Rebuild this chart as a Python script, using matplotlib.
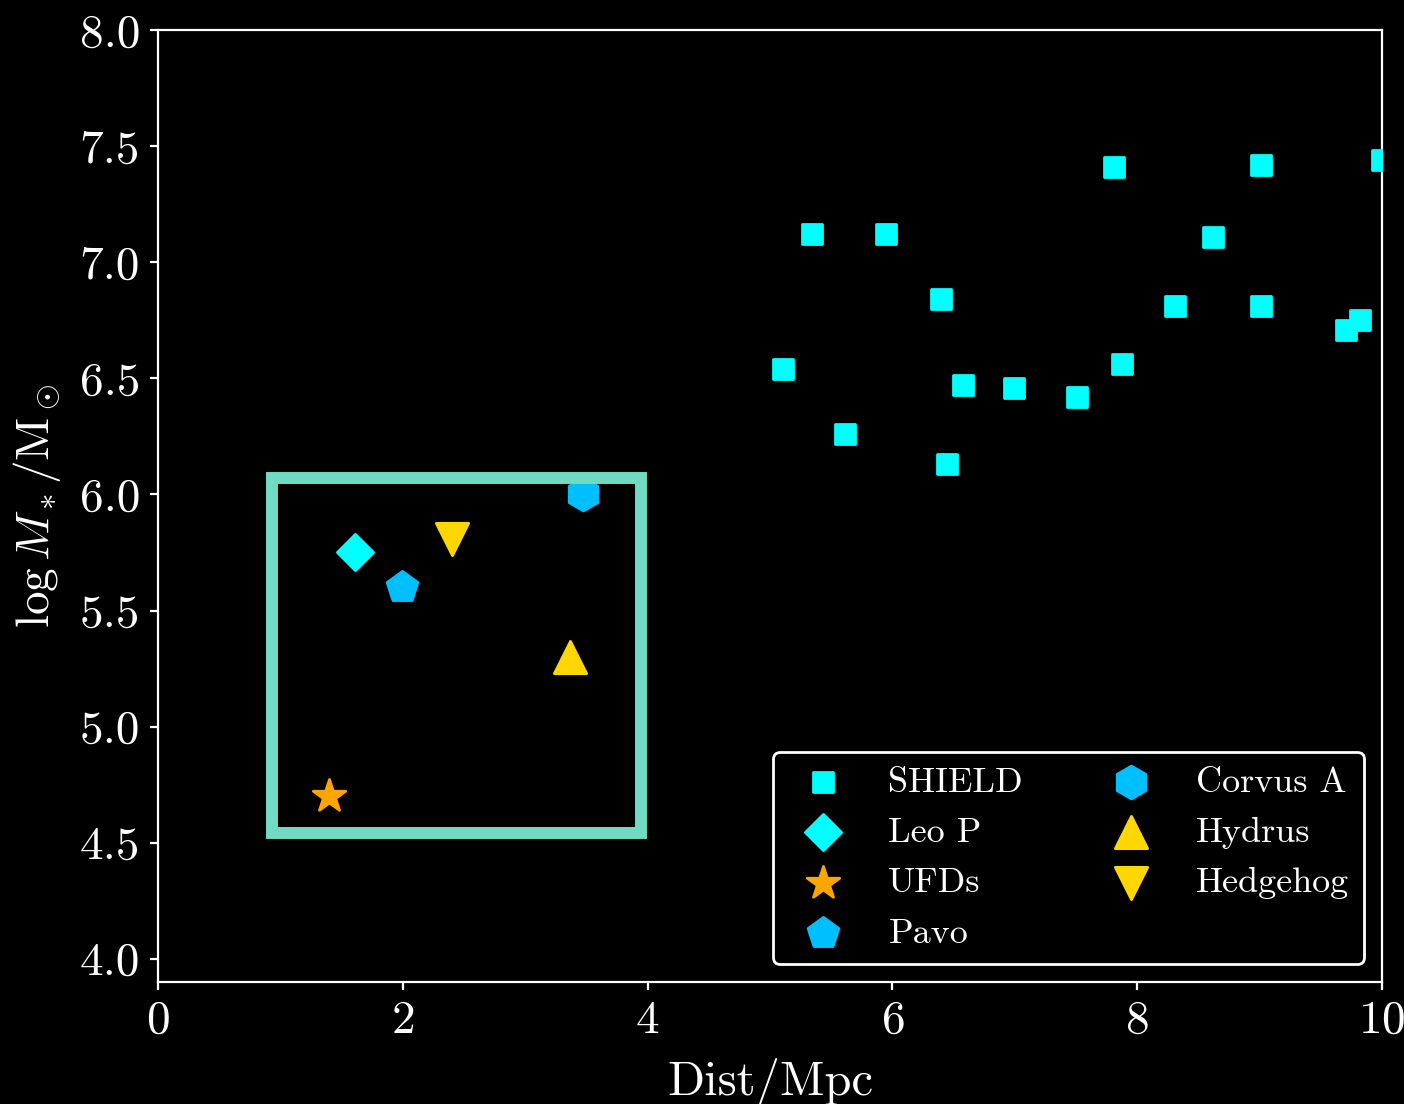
import matplotlib
matplotlib.use('Agg')
import matplotlib.pyplot as plt
from matplotlib.patches import Rectangle

# SHIELD galaxies: distance (Mpc) and log stellar mass
shield_dist = [5.11, 5.34, 5.61, 5.95, 6.40, 6.45, 6.58, 6.99, 7.51, 7.81,
               7.88, 8.31, 8.62, 9.01, 9.01, 9.71, 9.82, 10.0]
shield_mass = [6.54, 7.12, 6.26, 7.12, 6.84, 6.13, 6.47, 6.46, 6.42, 7.41,
               6.56, 6.81, 7.11, 7.42, 6.81, 6.71, 6.75, 7.44]

# individual objects
obj_names = ['Leo P', 'UFDs', 'Pavo', 'Corvus A', 'Hydrus', 'Hedgehog']
obj_dist = [1.61, 1.40, 1.99, 3.47, 3.37, 2.40]
obj_mass = [5.75, 4.70, 5.60, 6.00, 5.30, 5.81]
obj_marker = ['D', '*', 'p', 'h', '^', 'v']
obj_color = ['#00FFFF', '#FFA500', '#00BFFF', '#00BFFF', '#FFD700', '#FFD700']
obj_size = [85, 150, 135, 140, 135, 135]

# highlighted region (x0, x1, y0, y1)
box_x = [0.93, 3.95]
box_y = [4.54, 6.07]

plt.rcParams['font.family'] = 'serif'
plt.rcParams['font.serif'] = ['cmr10']
plt.rcParams['mathtext.fontset'] = 'cm'
plt.rcParams['axes.formatter.use_mathtext'] = True

fig = plt.figure(figsize=(7.02, 5.52), dpi=200, facecolor='black')
ax = fig.add_axes([0.1125, 0.1105, 0.8718, 0.8623], facecolor='black')

ax.scatter(shield_dist, shield_mass, marker='s', s=52, color='#00FFFF',
           label='SHIELD', zorder=3)
for i in range(len(obj_names)):
    ax.scatter(obj_dist[i], obj_mass[i], marker=obj_marker[i], s=obj_size[i],
               color=obj_color[i], label=obj_names[i], zorder=3)

ax.add_patch(Rectangle((box_x[0], box_y[0]), box_x[1] - box_x[0], box_y[1] - box_y[0],
                       fill=False, edgecolor='#70DBC1', linewidth=4.3, zorder=4,
                       clip_on=False))

ax.set_xlim(0, 10)
ax.set_ylim(3.9, 8.0)
ax.set_xticks([0, 2, 4, 6, 8, 10])
ax.set_yticks([4.0, 4.5, 5.0, 5.5, 6.0, 6.5, 7.0, 7.5, 8.0])
ax.set_yticklabels(['4.0', '4.5', '5.0', '5.5', '6.0', '6.5', '7.0', '7.5', '8.0'])

for sp in ax.spines.values():
    sp.set_color('white')
ax.tick_params(colors='white', labelsize=17, length=3, width=0.8)

ax.set_xlabel('Dist/Mpc', color='white', fontsize=17.5, labelpad=6)
ax.set_ylabel(r'$\log M_*/\mathrm{M}_\odot$', color='white', fontsize=17, labelpad=6)

leg = ax.legend(loc='lower right', ncol=2, fontsize=13, labelspacing=0.5,
                scatterpoints=1, facecolor='black', edgecolor='white',
                framealpha=1)
for t in leg.get_texts():
    t.set_color('white')

fig.savefig('out.png', dpi=200, facecolor='black')
